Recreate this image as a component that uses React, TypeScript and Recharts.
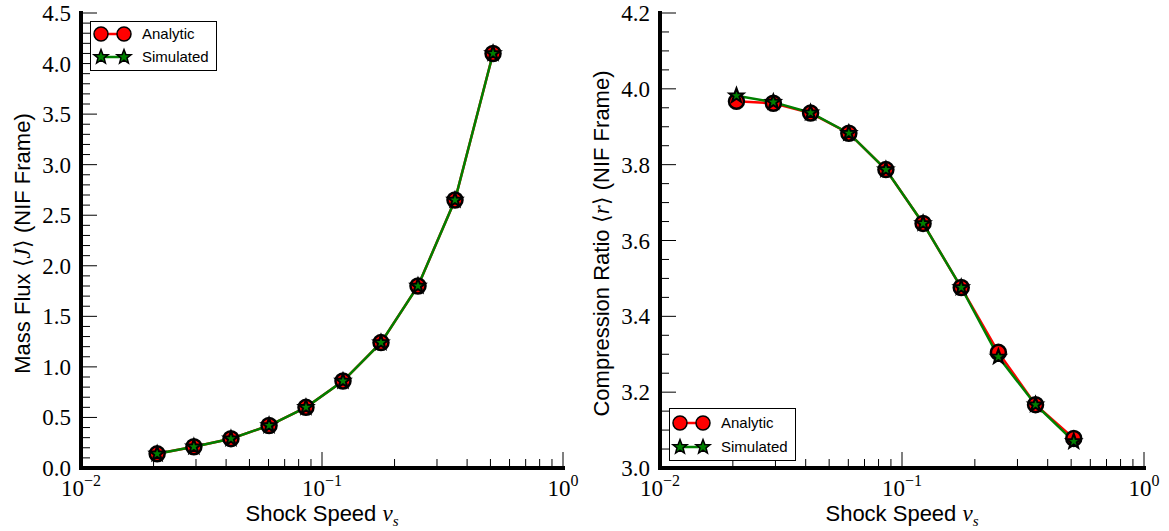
import React from 'react';
import { LineChart, Line, XAxis, YAxis, Legend } from 'recharts';

// ---------- data ----------
const shockSpeed = [0.0207, 0.0294, 0.0419, 0.0603, 0.0858, 0.1222, 0.1757, 0.2502, 0.3563, 0.5125];
const massFluxAnalytic = [0.14, 0.21, 0.29, 0.42, 0.6, 0.86, 1.24, 1.8, 2.65, 4.1];
const massFluxSimulated = [0.14, 0.21, 0.29, 0.42, 0.6, 0.86, 1.24, 1.8, 2.65, 4.1];
const ratioAnalytic = [3.967, 3.962, 3.936, 3.883, 3.787, 3.645, 3.476, 3.305, 3.167, 3.078];
const ratioSimulated = [3.982, 3.965, 3.937, 3.883, 3.787, 3.645, 3.476, 3.293, 3.167, 3.07];

const seriesNames = ['Analytic', 'Simulated'];

// ---------- ticks ----------
const xMajorTicks = [0.01, 0.1, 1];
const xTickExponents = ['\u22122', '\u22121', '0'];
const xTicks = [0.01, 0.02, 0.03, 0.04, 0.05, 0.06, 0.07, 0.08, 0.09, 0.1, 0.2, 0.3, 0.4, 0.5, 0.6, 0.7, 0.8, 0.9, 1];
const fluxMajorTicks = [0, 0.5, 1, 1.5, 2, 2.5, 3, 3.5, 4, 4.5];
const fluxTicks = [
  0, 0.1, 0.2, 0.3, 0.4, 0.5, 0.6, 0.7, 0.8, 0.9, 1, 1.1, 1.2, 1.3, 1.4, 1.5, 1.6, 1.7, 1.8, 1.9, 2,
  2.1, 2.2, 2.3, 2.4, 2.5, 2.6, 2.7, 2.8, 2.9, 3, 3.1, 3.2, 3.3, 3.4, 3.5, 3.6, 3.7, 3.8, 3.9, 4,
  4.1, 4.2, 4.3, 4.4, 4.5,
];
const ratioMajorTicks = [3.0, 3.2, 3.4, 3.6, 3.8, 4.0, 4.2];
const ratioTicks = [
  3.0, 3.05, 3.1, 3.15, 3.2, 3.25, 3.3, 3.35, 3.4, 3.45, 3.5, 3.55, 3.6, 3.65, 3.7, 3.75, 3.8, 3.85,
  3.9, 3.95, 4.0, 4.05, 4.1, 4.15, 4.2,
];

const fluxData = shockSpeed.map((v, i) => ({ v, analytic: massFluxAnalytic[i], simulated: massFluxSimulated[i] }));
const ratioData = shockSpeed.map((v, i) => ({ v, analytic: ratioAnalytic[i], simulated: ratioSimulated[i] }));

// ---------- styles ----------
const SERIF = '"Liberation Serif", "Times New Roman", serif';
const SANS = '"Liberation Sans", Arial, Helvetica, sans-serif';
const MAJOR = 16;
const MINOR = 9;
const RED = '#ff0000';
const GREEN = '#008000';
const FRAME = { stroke: '#000', strokeWidth: 4, strokeLinecap: 'square' as const };

const findIdx = (arr: number[], v: number) => arr.findIndex((m) => Math.abs(m - v) < 1e-9);

function starPoints(cx: number, cy: number, R: number, r: number) {
  const pts: string[] = [];
  for (let k = 0; k < 10; k++) {
    const rad = k % 2 === 0 ? R : r;
    const a = -Math.PI / 2 + (k * Math.PI) / 5;
    pts.push(`${cx + rad * Math.cos(a)},${cy + rad * Math.sin(a)}`);
  }
  return pts.join(' ');
}

const CircleDot = (p: any) => (
  <circle key={`c-${p.index}`} cx={p.cx} cy={p.cy} r={7.5} fill={RED} stroke="#000" strokeWidth={2.5} />
);
const StarDot = (p: any) => (
  <polygon key={`s-${p.index}`} points={starPoints(p.cx, p.cy, 7.5, 3.1)} fill={GREEN} stroke="#000" strokeWidth={2} strokeLinejoin="miter" />
);

// ---------- tick renderers ----------
const BottomTick = (p: any) => {
  const { x, y, payload } = p;
  const idx = findIdx(xMajorTicks, payload.value);
  const major = idx >= 0;
  return (
    <g>
      <line x1={x} y1={y} x2={x} y2={y - (major ? MAJOR : MINOR)} stroke="#000" strokeWidth={1} />
      {major && (
        <text x={x} y={y + 28} textAnchor="middle" fontFamily={SERIF} fontSize={23} fill="#000">
          10
          <tspan dy={-10} fontSize={16}>{xTickExponents[idx]}</tspan>
        </text>
      )}
    </g>
  );
};

const TopTick = (p: any) => {
  const { x, y, payload } = p;
  const major = findIdx(xMajorTicks, payload.value) >= 0;
  return <line x1={x} y1={y} x2={x} y2={y + (major ? MAJOR : MINOR)} stroke="#000" strokeWidth={1} />;
};

const makeLeftTick = (majors: number[]) => (p: any) => {
  const { x, y, payload } = p;
  const major = findIdx(majors, payload.value) >= 0;
  return (
    <g>
      <line x1={x} y1={y} x2={x + (major ? MAJOR : MINOR)} y2={y} stroke="#000" strokeWidth={1} />
      {major && (
        <text x={x - 10} y={y + 8} textAnchor="end" fontFamily={SERIF} fontSize={23} fill="#000">
          {Number(payload.value).toFixed(1)}
        </text>
      )}
    </g>
  );
};

const makeRightTick = (majors: number[]) => (p: any) => {
  const { x, y, payload } = p;
  const major = findIdx(majors, payload.value) >= 0;
  return <line x1={x} y1={y} x2={x - (major ? MAJOR : MINOR)} y2={y} stroke="#000" strokeWidth={1} />;
};

// ---------- labels ----------
const XTitle = (p: any) => {
  const vb = p.viewBox || {};
  const cx = vb.x + vb.width / 2;
  return (
    <text x={cx} y={vb.y + 53} textAnchor="middle" fill="#000" fontFamily={SANS} fontSize={22}>
      Shock Speed{' '}
      <tspan fontFamily={SERIF} fontStyle="italic" fontSize={23}>v</tspan>
      <tspan fontFamily={SERIF} fontStyle="italic" fontSize={15} dy={5}>s</tspan>
    </text>
  );
};

const makeYTitle = (main: string, sym: string, xPos: number) => (p: any) => {
  const vb = p.viewBox || {};
  const cy = vb.y + vb.height / 2 + 3;
  return (
    <text
      x={xPos}
      y={cy}
      textAnchor="middle"
      dominantBaseline="central"
      transform={`rotate(-90, ${xPos}, ${cy})`}
      fill="#000"
      fontFamily={SANS}
      fontSize={22}
    >
      {main}{' '}
      <tspan fontFamily={SERIF}>{'\u27E8'}</tspan>
      <tspan fontFamily={SERIF} fontStyle="italic" fontSize={23}>{sym}</tspan>
      <tspan fontFamily={SERIF}>{'\u27E9'}</tspan>
      {' (NIF Frame)'}
    </text>
  );
};

// ---------- legend ----------
const LegendBox = ({ height, rowY }: { height: number; rowY: number[] }) => (
  <div
    style={{
      position: 'relative',
      width: 127,
      height,
      boxSizing: 'border-box',
      border: '1px solid #000',
      background: '#fff',
      fontFamily: SANS,
      fontSize: 15,
      color: '#000',
    }}
  >
    {seriesNames.map((name, i) => (
      <React.Fragment key={name}>
        <svg width={46} height={22} style={{ position: 'absolute', left: 0, top: rowY[i] - 11 }}>
          <line x1={10} y1={11} x2={33} y2={11} stroke={i === 0 ? RED : GREEN} strokeWidth={2.5} />
          {i === 0 ? (
            <>
              <circle cx={10} cy={11} r={7} fill={RED} stroke="#000" strokeWidth={1.5} />
              <circle cx={33} cy={11} r={7} fill={RED} stroke="#000" strokeWidth={1.5} />
            </>
          ) : (
            <>
              <polygon points={starPoints(10, 11, 7.5, 3.2)} fill={GREEN} stroke="#000" strokeWidth={1.5} />
              <polygon points={starPoints(33, 11, 7.5, 3.2)} fill={GREEN} stroke="#000" strokeWidth={1.5} />
            </>
          )}
        </svg>
        <div style={{ position: 'absolute', left: 51, top: rowY[i] - 10, lineHeight: '20px', whiteSpace: 'nowrap' }}>{name}</div>
      </React.Fragment>
    ))}
  </div>
);

// ---------- panel ----------
type PanelProps = {
  data: any[];
  width: number;
  margin: { top: number; right: number; bottom: number; left: number };
  yAxisWidth: number;
  yDomain: [number, number];
  yTicks: number[];
  yMajors: number[];
  yTitle: (p: any) => React.ReactElement;
  legendPos: { left: number; top: number; height: number; rowY: number[] };
};

const Panel = ({ data, width, margin, yAxisWidth, yDomain, yTicks, yMajors, yTitle, legendPos }: PanelProps) => (
  <LineChart width={width} height={531} data={data} margin={margin}>
    <XAxis
      dataKey="v"
      type="number"
      scale="log"
      domain={[0.01, 1]}
      allowDataOverflow
      ticks={xTicks}
      interval={0}
      tickSize={0}
      tickMargin={0}
      tickLine={false}
      height={63}
      axisLine={FRAME}
      tick={BottomTick}
      label={XTitle}
    />
    <XAxis
      xAxisId="top"
      orientation="top"
      dataKey="v"
      type="number"
      scale="log"
      domain={[0.01, 1]}
      allowDataOverflow
      ticks={xTicks}
      interval={0}
      tickSize={0}
      tickMargin={0}
      tickLine={false}
      height={0}
      axisLine={FRAME}
      tick={TopTick}
    />
    <YAxis
      type="number"
      domain={yDomain}
      allowDataOverflow
      ticks={yTicks}
      interval={0}
      tickSize={0}
      tickMargin={0}
      tickLine={false}
      width={yAxisWidth}
      axisLine={FRAME}
      tick={makeLeftTick(yMajors)}
      label={yTitle}
    />
    <YAxis
      yAxisId="right"
      orientation="right"
      type="number"
      domain={yDomain}
      allowDataOverflow
      ticks={yTicks}
      interval={0}
      tickSize={0}
      tickMargin={0}
      tickLine={false}
      width={0}
      axisLine={FRAME}
      tick={makeRightTick(yMajors)}
    />
    <Line
      dataKey="analytic"
      name={seriesNames[0]}
      type="linear"
      stroke={RED}
      strokeWidth={2.5}
      dot={CircleDot}
      activeDot={false}
      isAnimationActive={false}
    />
    <Line
      dataKey="simulated"
      name={seriesNames[1]}
      type="linear"
      stroke={GREEN}
      strokeWidth={2.5}
      dot={StarDot}
      activeDot={false}
      isAnimationActive={false}
    />
    <Legend
      layout="horizontal"
      verticalAlign="middle"
      align="center"
      wrapperStyle={{ left: legendPos.left, top: legendPos.top, width: 127, height: legendPos.height }}
      content={() => <LegendBox height={legendPos.height} rowY={legendPos.rowY} />}
    />
  </LineChart>
);

export default function App() {
  return (
    <div style={{ position: 'absolute', left: 0, top: 0, width: 1169, height: 531, background: '#fff', overflow: 'hidden' }}>
      <div style={{ position: 'absolute', left: 0, top: 0 }}>
        <Panel
          data={fluxData}
          width={600}
          margin={{ top: 13, right: 37, bottom: 0, left: 0 }}
          yAxisWidth={81}
          yDomain={[0, 4.5]}
          yTicks={fluxTicks}
          yMajors={fluxMajorTicks}
          yTitle={makeYTitle('Mass Flux', 'J', 22)}
          legendPos={{ left: 90, top: 21, height: 50, rowY: [12, 35] }}
        />
      </div>
      <div style={{ position: 'absolute', left: 580, top: 0 }}>
        <Panel
          data={ratioData}
          width={589}
          margin={{ top: 13, right: 25, bottom: 0, left: 0 }}
          yAxisWidth={80}
          yDomain={[3.0, 4.2]}
          yTicks={ratioTicks}
          yMajors={ratioMajorTicks}
          yTitle={makeYTitle('Compression Ratio', 'r', 21)}
          legendPos={{ left: 89, top: 408, height: 53, rowY: [14, 38] }}
        />
      </div>
    </div>
  );
}
